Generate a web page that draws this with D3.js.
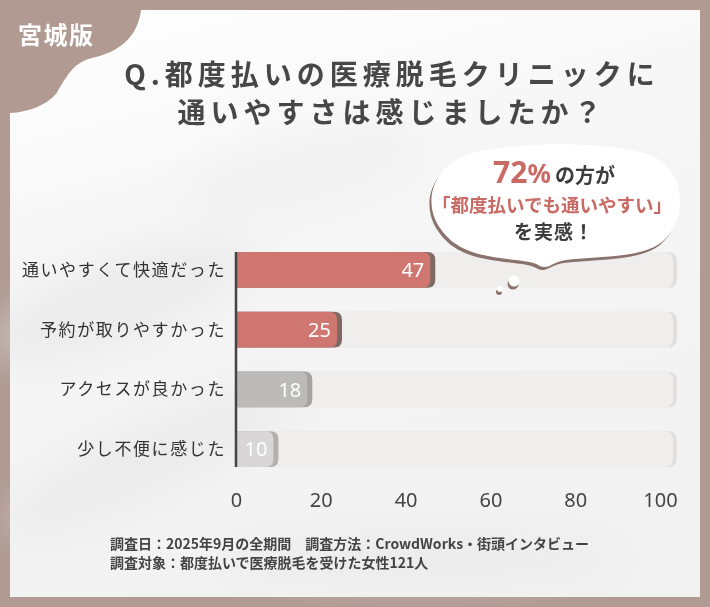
<!DOCTYPE html>
<html><head><meta charset="utf-8">
<script src="https://cdn.jsdelivr.net/npm/d3@7/dist/d3.min.js"></script>
<style>html,body{margin:0;padding:0;background:#b09a91;}svg{display:block;}</style>
</head><body>
<svg id="c" width="710" height="607"></svg>
<script>
const categories = ["通いやすくて快適だった","予約が取りやすかった","アクセスが良かった","少し不便に感じた"];
const values = [47, 25, 18, 10];
const barColors = ["#d07670","#d07670","#bdbaba","#d8d6d6"];
const shadowColors = ["#7d6a64","#7d6a64","#a6a3a3","#b3b0b0"];
const xTicks = [0,20,40,60,80,100];
const titleLines = ["Q.都度払いの医療脱毛クリニックに","通いやすさは感じましたか？"];
const footLines = ["調査日：2025年9月の全期間　調査方法：CrowdWorks・街頭インタビュー","調査対象：都度払いで医療脱毛を受けた女性121人"];

const svg = d3.select("#c");
const JP = "'Noto Sans CJK JP','Noto Sans',sans-serif";
const defs = svg.append("defs");
const g1 = defs.append("linearGradient").attr("id","bg").attr("x1",0).attr("y1",0).attr("x2",0.3).attr("y2",1);
g1.append("stop").attr("offset","0%").attr("stop-color","#ffffff");
g1.append("stop").attr("offset","40%").attr("stop-color","#f6f6f6");
g1.append("stop").attr("offset","100%").attr("stop-color","#f2f2f2");
defs.append("filter").attr("id","blur").append("feGaussianBlur").attr("stdDeviation",18);

// right-rounded rect path
function rr(x0,y0,w,h,r){
  r = Math.min(r, w);
  return `M${x0},${y0} H${x0+w-r} Q${x0+w},${y0} ${x0+w},${y0+r} V${y0+h-r} Q${x0+w},${y0+h} ${x0+w-r},${y0+h} H${x0} Z`;
}

// frame & card
svg.append("rect").attr("width",710).attr("height",607).attr("fill","#b09a91");
svg.append("rect").attr("x",10).attr("y",10).attr("width",690).attr("height",587).attr("fill","url(#bg)");
// subtle brush texture
const tex = svg.append("g").attr("filter","url(#blur)").attr("opacity",0.5);
tex.append("ellipse").attr("cx",120).attr("cy",300).attr("rx",140).attr("ry",40).attr("fill","#e2e2e2").attr("transform","rotate(-20 120 300)");
tex.append("ellipse").attr("cx",150).attr("cy",460).attr("rx",160).attr("ry",35).attr("fill","#e4e4e4").attr("transform","rotate(-25 150 460)");
tex.append("ellipse").attr("cx",420).attr("cy",560).attr("rx",200).attr("ry",25).attr("fill","#e6e6e6");
tex.append("ellipse").attr("cx",300).attr("cy",170).attr("rx",120).attr("ry",30).attr("fill","#ececec").attr("transform","rotate(-15 300 170)");

// corner blob
svg.append("path").attr("d","M10,10 L141,10 C138,36 120,52 92,58 C72,63 66,78 56,94 C45,106 28,112 10,113 Z").attr("fill","#b09a91");
svg.append("text").attr("x",18).attr("y",44).attr("fill","#fff").attr("font-family",JP).attr("font-weight",700)
  .attr("font-size",24).attr("letter-spacing",1.5).text("宮城版");

// title
titleLines.forEach((t,i)=>{
  svg.append("text").attr("x",392).attr("y",85+i*38).attr("text-anchor","middle").attr("fill","#474747")
    .attr("font-family",JP).attr("font-weight",700).attr("font-size",28).attr("letter-spacing",5).text(t);
});

// scales
const x = d3.scaleLinear().domain([0,100]).range([236,660]);
const y = d3.scaleBand().domain(categories).range([240,479]).paddingInner(0.4).paddingOuter(0.2);
const bh = y.bandwidth();

// tracks
const tr = svg.append("g");
categories.forEach(c=>{
  tr.append("path").attr("d",rr(x(0),y(c),x(100)+17-x(0),bh,9)).attr("fill","#e2dfdf");
  tr.append("path").attr("d",rr(x(0),y(c),x(100)+13-x(0),bh,9)).attr("fill","#f0eded");
});

// bubble
const bub = svg.append("g");
const bpath = "M440,228 C424,205 430,172 462,157 C495,141 620,139 656,158 C688,176 686,222 662,242 C642,258 600,256 566,260 C552,262 548,270 540,266 C532,261 520,261 500,258 C470,254 452,246 440,228 Z";
bub.append("path").attr("d",bpath).attr("fill","#8a736c").attr("transform","translate(-2,3)");
bub.append("path").attr("d",bpath).attr("fill","#ffffff");
bub.append("circle").attr("cx",513).attr("cy",284).attr("r",5.5).attr("fill","#8a736c");
bub.append("circle").attr("cx",514).attr("cy",281).attr("r",5.5).attr("fill","#fff");
bub.append("circle").attr("cx",499).attr("cy",292).attr("r",3).attr("fill","#8a736c");
bub.append("circle").attr("cx",500).attr("cy",289).attr("r",3).attr("fill","#fff");
const t1 = bub.append("text").attr("x",554).attr("y",183).attr("text-anchor","middle").attr("font-family",JP).attr("font-weight",700);
t1.append("tspan").attr("fill","#c96a64").attr("font-size",30).attr("font-family","'Noto Sans',sans-serif").text("72");
t1.append("tspan").attr("fill","#c96a64").attr("font-size",26).attr("font-family","'Noto Sans',sans-serif").text("%");
t1.append("tspan").attr("fill","#3d3d3d").attr("font-size",20).attr("dx",4).text("の方が");
bub.append("text").attr("x",552).attr("y",212).attr("text-anchor","middle").attr("fill","#c96a64").attr("font-family",JP)
  .attr("font-weight",700).attr("font-size",18.5).text("「都度払いでも通いやすい」");
bub.append("text").attr("x",554).attr("y",239).attr("text-anchor","middle").attr("fill","#3d3d3d").attr("font-family",JP)
  .attr("font-weight",700).attr("font-size",19).attr("letter-spacing",1).text("を実感！");

// bars
const bars = svg.append("g");
categories.forEach((c,i)=>{
  const w = x(values[i]) - x(0);
  bars.append("path").attr("d",rr(x(0),y(c),w,bh,8)).attr("fill",shadowColors[i]);
  bars.append("path").attr("d",rr(x(0),y(c),w-5,bh,8)).attr("fill",barColors[i]);
  bars.append("text").attr("x",x(values[i])-11).attr("y",y(c)+bh/2).attr("dy","0.36em").attr("text-anchor","end")
    .attr("fill","#fff").attr("font-family","'Noto Sans',sans-serif").attr("font-size",20).text(values[i]);
});

// category labels
categories.forEach(c=>{
  svg.append("text").attr("x",226).attr("y",y(c)+bh/2).attr("dy","0.36em").attr("text-anchor","end")
    .attr("fill","#333").attr("font-family",JP).attr("font-size",17).attr("letter-spacing",1.6).text(c);
});

// axis line
svg.append("line").attr("x1",x(0)).attr("x2",x(0)).attr("y1",y(categories[0])).attr("y2",y(categories[3])+bh)
  .attr("stroke","#444").attr("stroke-width",2.5);

// x axis
const xa = svg.append("g").attr("transform","translate(0,500)")
  .call(d3.axisBottom(x).tickValues(xTicks).tickSize(0).tickPadding(0));
xa.select(".domain").remove();
xa.selectAll("text").attr("fill","#444").attr("font-size",20).attr("font-family","'Noto Sans',sans-serif").attr("dy","0.36em");

// footer
footLines.forEach((t,i)=>{
  svg.append("text").attr("x",110).attr("y",549+i*19).attr("fill","#444").attr("font-family",JP).attr("font-weight",700)
    .attr("font-size",14).text(t);
});
</script>
</body></html>
